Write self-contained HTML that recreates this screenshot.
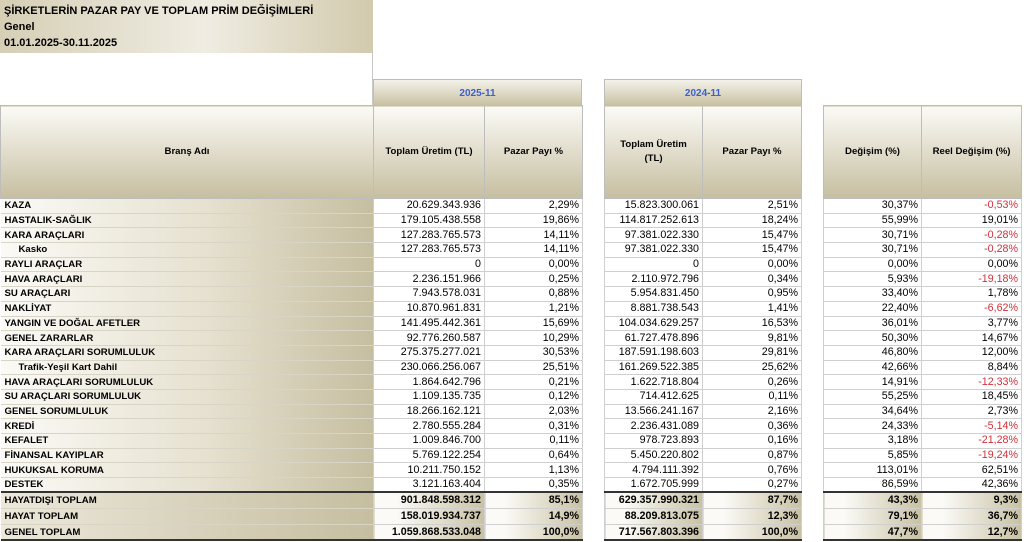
<!DOCTYPE html>
<html><head><meta charset="utf-8">
<style>
*{margin:0;padding:0;box-sizing:border-box}
body{width:1024px;height:542px;background:#fff;font-family:"Liberation Sans",Arial,sans-serif;position:relative;overflow:hidden;color:#000}
.title{position:absolute;left:0;top:0;width:373px;height:53px;background:linear-gradient(90deg,#d6cfb6,#efece2 55%,#d2caad);font-weight:bold;font-size:11px;line-height:16px;padding:3px 4px}
.titlebox{position:absolute;left:0;top:0;width:373px;height:106px;border-right:1px solid #c8c8c8}
.yr{position:absolute;top:79px;height:27px;background:linear-gradient(180deg,#f4f2ea,#c9c1a3);color:#3b5fcf;font-weight:bold;font-size:10px;text-align:center;line-height:27px;border:1px solid #bdbdbd}
table{position:absolute;left:0;top:105px;border-collapse:collapse;table-layout:fixed;width:1021px}
td{font-size:10.7px;white-space:nowrap;overflow:hidden;padding:0 3px;height:14.7px;line-height:13px}
td.n{font-weight:bold;font-size:9.6px;background:linear-gradient(90deg,#fbfaf6,#e6e1d0 55%,#c6bea0);border-bottom:1px solid #d8d4c6;padding-left:4px}
td.v{text-align:right;border:1px solid #cfcfcf}
td.g{border:none;background:#fff}
td.r{color:#d0303a}
tr.h td{height:93px;font-weight:bold;font-size:9.6px;text-align:center;background:linear-gradient(180deg,#fbfaf6,#c6bea0);border:1px solid #bdbdbd;white-space:normal;line-height:14px}
tr.h td.g{background:#fff;border:none}
tr.t td{font-weight:bold;height:16px}
tr.t td.v{background:linear-gradient(90deg,#fbfaf6 20%,#c9c1a3);border:1px solid #cfcfcf}
tr.t td.n{background:linear-gradient(90deg,#ece8da,#c6bea0)}
tr.t1 td{border-top:2px solid #333 !important}
tr.t3 td{border-bottom:2px solid #333 !important}
tr.t td.g{border:none !important}
</style></head><body>
<div class="titlebox"></div>
<div class="title">ŞİRKETLERİN PAZAR PAY VE TOPLAM PRİM DEĞİŞİMLERİ<br>Genel<br>01.01.2025-30.11.2025</div>
<div class="yr" style="left:373px;width:209px">2025-11</div>
<div class="yr" style="left:604px;width:198px">2024-11</div>
<table>
<colgroup><col style="width:373px"><col style="width:111px"><col style="width:98px"><col style="width:22px"><col style="width:98px"><col style="width:99px"><col style="width:22px"><col style="width:98px"><col style="width:100px"></colgroup>
<tr class="h"><td>Branş Adı</td><td>Toplam Üretim (TL)</td><td>Pazar Payı %</td><td class="g"></td><td>Toplam Üretim<br>(TL)</td><td>Pazar Payı %</td><td class="g"></td><td>Değişim (%)</td><td>Reel Değişim (%)</td></tr>
<tr><td class="n">KAZA</td><td class="v">20.629.343.936</td><td class="v">2,29%</td><td class="g"></td><td class="v">15.823.300.061</td><td class="v">2,51%</td><td class="g"></td><td class="v">30,37%</td><td class="v r">-0,53%</td></tr>
<tr><td class="n">HASTALIK-SAĞLIK</td><td class="v">179.105.438.558</td><td class="v">19,86%</td><td class="g"></td><td class="v">114.817.252.613</td><td class="v">18,24%</td><td class="g"></td><td class="v">55,99%</td><td class="v">19,01%</td></tr>
<tr><td class="n">KARA ARAÇLARI</td><td class="v">127.283.765.573</td><td class="v">14,11%</td><td class="g"></td><td class="v">97.381.022.330</td><td class="v">15,47%</td><td class="g"></td><td class="v">30,71%</td><td class="v r">-0,28%</td></tr>
<tr><td class="n" style="padding-left:18px">Kasko</td><td class="v">127.283.765.573</td><td class="v">14,11%</td><td class="g"></td><td class="v">97.381.022.330</td><td class="v">15,47%</td><td class="g"></td><td class="v">30,71%</td><td class="v r">-0,28%</td></tr>
<tr><td class="n">RAYLI ARAÇLAR</td><td class="v">0</td><td class="v">0,00%</td><td class="g"></td><td class="v">0</td><td class="v">0,00%</td><td class="g"></td><td class="v">0,00%</td><td class="v">0,00%</td></tr>
<tr><td class="n">HAVA ARAÇLARI</td><td class="v">2.236.151.966</td><td class="v">0,25%</td><td class="g"></td><td class="v">2.110.972.796</td><td class="v">0,34%</td><td class="g"></td><td class="v">5,93%</td><td class="v r">-19,18%</td></tr>
<tr><td class="n">SU ARAÇLARI</td><td class="v">7.943.578.031</td><td class="v">0,88%</td><td class="g"></td><td class="v">5.954.831.450</td><td class="v">0,95%</td><td class="g"></td><td class="v">33,40%</td><td class="v">1,78%</td></tr>
<tr><td class="n">NAKLİYAT</td><td class="v">10.870.961.831</td><td class="v">1,21%</td><td class="g"></td><td class="v">8.881.738.543</td><td class="v">1,41%</td><td class="g"></td><td class="v">22,40%</td><td class="v r">-6,62%</td></tr>
<tr><td class="n">YANGIN VE DOĞAL AFETLER</td><td class="v">141.495.442.361</td><td class="v">15,69%</td><td class="g"></td><td class="v">104.034.629.257</td><td class="v">16,53%</td><td class="g"></td><td class="v">36,01%</td><td class="v">3,77%</td></tr>
<tr><td class="n">GENEL ZARARLAR</td><td class="v">92.776.260.587</td><td class="v">10,29%</td><td class="g"></td><td class="v">61.727.478.896</td><td class="v">9,81%</td><td class="g"></td><td class="v">50,30%</td><td class="v">14,67%</td></tr>
<tr><td class="n">KARA ARAÇLARI SORUMLULUK</td><td class="v">275.375.277.021</td><td class="v">30,53%</td><td class="g"></td><td class="v">187.591.198.603</td><td class="v">29,81%</td><td class="g"></td><td class="v">46,80%</td><td class="v">12,00%</td></tr>
<tr><td class="n" style="padding-left:18px">Trafik-Yeşil Kart Dahil</td><td class="v">230.066.256.067</td><td class="v">25,51%</td><td class="g"></td><td class="v">161.269.522.385</td><td class="v">25,62%</td><td class="g"></td><td class="v">42,66%</td><td class="v">8,84%</td></tr>
<tr><td class="n">HAVA ARAÇLARI SORUMLULUK</td><td class="v">1.864.642.796</td><td class="v">0,21%</td><td class="g"></td><td class="v">1.622.718.804</td><td class="v">0,26%</td><td class="g"></td><td class="v">14,91%</td><td class="v r">-12,33%</td></tr>
<tr><td class="n">SU ARAÇLARI SORUMLULUK</td><td class="v">1.109.135.735</td><td class="v">0,12%</td><td class="g"></td><td class="v">714.412.625</td><td class="v">0,11%</td><td class="g"></td><td class="v">55,25%</td><td class="v">18,45%</td></tr>
<tr><td class="n">GENEL SORUMLULUK</td><td class="v">18.266.162.121</td><td class="v">2,03%</td><td class="g"></td><td class="v">13.566.241.167</td><td class="v">2,16%</td><td class="g"></td><td class="v">34,64%</td><td class="v">2,73%</td></tr>
<tr><td class="n">KREDİ</td><td class="v">2.780.555.284</td><td class="v">0,31%</td><td class="g"></td><td class="v">2.236.431.089</td><td class="v">0,36%</td><td class="g"></td><td class="v">24,33%</td><td class="v r">-5,14%</td></tr>
<tr><td class="n">KEFALET</td><td class="v">1.009.846.700</td><td class="v">0,11%</td><td class="g"></td><td class="v">978.723.893</td><td class="v">0,16%</td><td class="g"></td><td class="v">3,18%</td><td class="v r">-21,28%</td></tr>
<tr><td class="n">FİNANSAL KAYIPLAR</td><td class="v">5.769.122.254</td><td class="v">0,64%</td><td class="g"></td><td class="v">5.450.220.802</td><td class="v">0,87%</td><td class="g"></td><td class="v">5,85%</td><td class="v r">-19,24%</td></tr>
<tr><td class="n">HUKUKSAL KORUMA</td><td class="v">10.211.750.152</td><td class="v">1,13%</td><td class="g"></td><td class="v">4.794.111.392</td><td class="v">0,76%</td><td class="g"></td><td class="v">113,01%</td><td class="v">62,51%</td></tr>
<tr><td class="n">DESTEK</td><td class="v">3.121.163.404</td><td class="v">0,35%</td><td class="g"></td><td class="v">1.672.705.999</td><td class="v">0,27%</td><td class="g"></td><td class="v">86,59%</td><td class="v">42,36%</td></tr>
<tr class="t t1"><td class="n">HAYATDIŞI TOPLAM</td><td class="v">901.848.598.312</td><td class="v">85,1%</td><td class="g"></td><td class="v">629.357.990.321</td><td class="v">87,7%</td><td class="g"></td><td class="v">43,3%</td><td class="v">9,3%</td></tr>
<tr class="t"><td class="n">HAYAT TOPLAM</td><td class="v">158.019.934.737</td><td class="v">14,9%</td><td class="g"></td><td class="v">88.209.813.075</td><td class="v">12,3%</td><td class="g"></td><td class="v">79,1%</td><td class="v">36,7%</td></tr>
<tr class="t t3"><td class="n">GENEL TOPLAM</td><td class="v">1.059.868.533.048</td><td class="v">100,0%</td><td class="g"></td><td class="v">717.567.803.396</td><td class="v">100,0%</td><td class="g"></td><td class="v">47,7%</td><td class="v">12,7%</td></tr>
</table>
</body></html>
